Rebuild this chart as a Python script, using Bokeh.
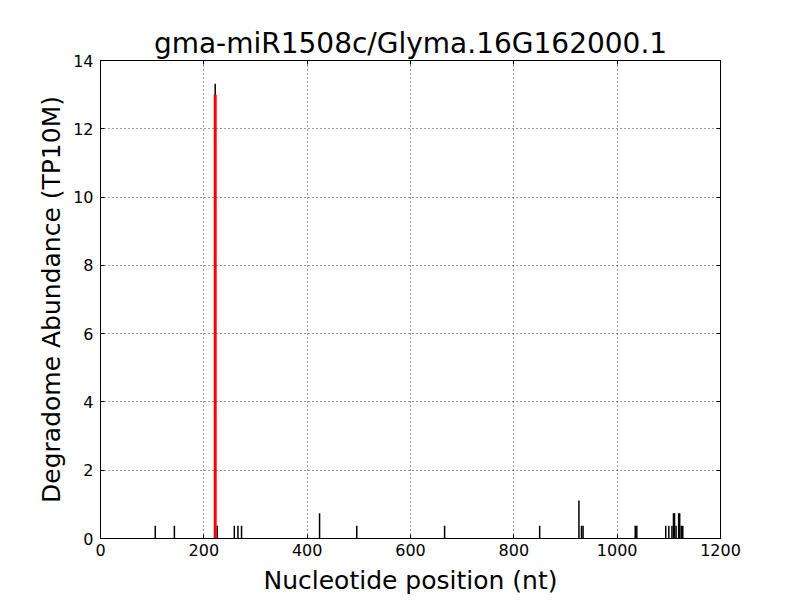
from bokeh.plotting import figure
from bokeh.models import Range1d, LinearAxis, FixedTicker, Title
from bokeh.embed import file_html
from bokeh.resources import INLINE

title_text = "gma-miR1508c/Glyma.16G162000.1"
x_label = "Nucleotide position (nt)"
y_label = "Degradome Abundance (TP10M)"

positions = [106, 143, 222, 226, 259, 266, 273, 424, 496, 666, 850, 926, 931, 934,
             1035, 1038, 1094, 1100, 1106, 1109, 1111, 1114, 1119, 1121, 1124, 1127]
abundance = [0.37, 0.37, 13.32, 0.37, 0.37, 0.37, 0.37, 0.74, 0.37, 0.37, 0.37, 1.11, 0.37, 0.37,
             0.37, 0.37, 0.37, 0.37, 0.37, 0.74, 0.74, 0.37, 0.74, 0.74, 0.37, 0.37]
site_pos = [222]
site_val = [13.0]

x_ticks = [0, 200, 400, 600, 800, 1000, 1200]
y_ticks = [0, 2, 4, 6, 8, 10, 12, 14]

W, H = 790, 597
p = figure(width=W, height=H, output_backend="svg", toolbar_location=None,
           x_range=Range1d(0, 1200), y_range=Range1d(0, 14),
           min_border_left=100, min_border_right=70, min_border_top=60, min_border_bottom=57)
p.outline_line_color = "black"
p.outline_line_width = 1
p.background_fill_color = "white"
p.border_fill_color = "white"

p.title = Title(text=title_text, align="center", text_font="DejaVu Sans",
                text_font_size="28px", text_font_style="normal", text_color="black",
                offset=0, standoff=2)

for ax in (p.xaxis[0], p.yaxis[0]):
    ax.major_tick_in = 4
    ax.major_tick_out = 0
    ax.minor_tick_line_color = None
    ax.axis_line_color = "black"
    ax.major_label_text_font = "DejaVu Sans"
    ax.major_label_text_font_size = "16px"
    ax.major_label_text_color = "black"
    ax.axis_label_text_font = "DejaVu Sans"
    ax.axis_label_text_font_size = "25px"
    ax.axis_label_text_font_style = "normal"
    ax.axis_label_text_color = "black"

p.xaxis[0].ticker = FixedTicker(ticks=x_ticks)
p.yaxis[0].ticker = FixedTicker(ticks=y_ticks)
p.xaxis[0].axis_label = x_label
p.yaxis[0].axis_label = y_label
p.xaxis[0].major_label_standoff = 5
p.yaxis[0].major_label_standoff = 7
p.xaxis[0].axis_label_standoff = 7
p.yaxis[0].axis_label_standoff = 4

top = LinearAxis(ticker=FixedTicker(ticks=x_ticks), major_label_text_color=None,
                 major_tick_in=4, major_tick_out=0, minor_tick_line_color=None,
                 major_label_standoff=0)
right = LinearAxis(ticker=FixedTicker(ticks=y_ticks), major_label_text_color=None,
                   major_tick_in=4, major_tick_out=0, minor_tick_line_color=None,
                   major_label_standoff=0)
p.add_layout(top, "above")
p.add_layout(right, "right")

for g in (p.xgrid[0], p.ygrid[0]):
    g.grid_line_color = "black"
    g.grid_line_dash = "1 3"
    g.grid_line_width = 0.8
    g.grid_line_alpha = 1.0
p.xgrid[0].ticker = FixedTicker(ticks=x_ticks)
p.ygrid[0].ticker = FixedTicker(ticks=y_ticks)

p.segment(x0=positions, y0=[0] * len(positions), x1=positions, y1=abundance,
          line_color="black", line_width=1.5)
p.segment(x0=site_pos, y0=[0], x1=site_pos, y1=site_val, line_color="red", line_width=3)

open("out.html", "w").write(file_html(p, INLINE))
